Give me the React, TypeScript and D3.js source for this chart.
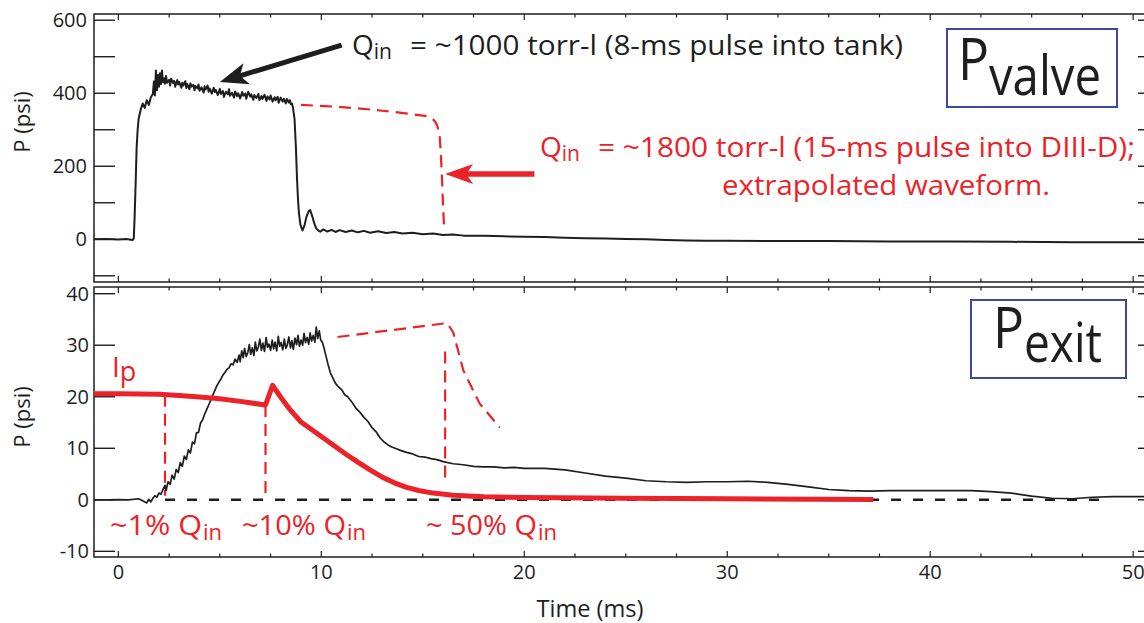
import React from "react";
import * as d3 from "d3";

// ---------- DATA ----------
// Top panel: valve pressure (psi) vs time (ms)
const valveTrace: [number, number][] = [
  [-1.2, 0], [-0.6, 0.5], [0, -0.5], [0.4, 1], [0.7, -2], [0.76, 2], [0.8, 60], [0.85, 150], [0.9, 250],
  [0.95, 300], [1.0, 330], [1.1, 355], [1.2, 372], [1.3, 360], [1.4, 381], [1.5, 368], [1.6, 389],
  [1.7, 398], [1.75, 432], [1.8, 394], [1.85, 462], [1.9, 408], [1.95, 450], [2.0, 418], [2.05, 455],
  [2.1, 425], [2.15, 462], [2.2, 430], [2.25, 441], [2.3, 426], [2.35, 447], [2.4, 429], [2.5, 437],
  [2.55, 421], [2.6, 440], [2.7, 428], [2.75, 434], [2.8, 418], [2.9, 436], [2.95, 424], [3.0, 431],
  [3.1, 415], [3.15, 429], [3.2, 421], [3.3, 433], [3.35, 414], [3.4, 425], [3.5, 411], [3.55, 427],
  [3.6, 418], [3.7, 423], [3.75, 408], [3.8, 420], [3.9, 413], [3.95, 424], [4.0, 407], [4.1, 416],
  [4.2, 402], [4.25, 419], [4.3, 410], [4.4, 421], [4.45, 404], [4.5, 413], [4.6, 399], [4.7, 415],
  [4.75, 403], [4.8, 409], [4.9, 395], [5.0, 412], [5.05, 398], [5.15, 406], [5.2, 390], [5.3, 404],
  [5.4, 397], [5.45, 411], [5.5, 393], [5.6, 401], [5.7, 388], [5.75, 405], [5.85, 392], [5.9, 400],
  [6.0, 386], [6.1, 403], [6.15, 393], [6.25, 399], [6.3, 385], [6.4, 404], [6.5, 391], [6.55, 397],
  [6.65, 382], [6.7, 395], [6.8, 387], [6.9, 398], [6.95, 381], [7.05, 392], [7.1, 384], [7.2, 396],
  [7.3, 379], [7.35, 391], [7.45, 383], [7.5, 394], [7.6, 377], [7.7, 389], [7.75, 381], [7.85, 390],
  [7.9, 374], [8.0, 388], [8.1, 377], [8.15, 385], [8.25, 372], [8.3, 384], [8.4, 375], [8.45, 381],
  [8.5, 370], [8.55, 372], [8.6, 362], [8.68, 330], [8.75, 250], [8.8, 170], [8.85, 110], [8.9, 70],
  [8.97, 40], [9.07, 24], [9.17, 38], [9.27, 62], [9.37, 76], [9.45, 80], [9.55, 64], [9.65, 44],
  [9.75, 30], [9.85, 24], [9.95, 21], [10.1, 27], [10.3, 21], [10.5, 26], [10.7, 20], [10.9, 25],
  [11.2, 20], [11.5, 24], [11.8, 19], [12.1, 23], [12.4, 18], [12.8, 22], [13.2, 17], [13.6, 20],
  [14.0, 16], [14.5, 18], [15.0, 14], [15.5, 16], [16.0, 12], [16.5, 13], [17, 10], [18, 10], [19, 8],
  [20, 7], [21, 6], [22, 4], [23, 3], [24, 2], [25, 1], [26, 0], [27, -2], [28, -3], [29, -4],
  [30, -4], [32, -5], [35, -5], [38, -6], [41, -6], [44, -7], [47, -8], [50.9, -8],
];

// Top panel: extrapolated 15-ms waveform (red dashed)
const valveExtrapolated: [number, number][] = [
  [9.0, 368], [11, 362], [13, 352], [14.8, 340], [15.4, 333], [15.65, 318], [15.8, 292],
  [15.88, 240], [15.95, 160], [16.0, 90], [16.05, 34],
];

// Bottom panel: exit pressure (psi)
const exitTrace: [number, number][] = [
  [-1.2, 0], [-0.5, 0], [0, 0.05], [0.5, 0], [1.0, 0.2], [1.2, -0.2], [1.4, -0.6], [1.5, 0.1],
  [1.6, -0.4], [1.7, 0.3], [1.8, 0.8], [1.9, 0.5], [2.0, 1.3], [2.1, 1.1], [2.2, 2.0], [2.3, 2.8],
  [2.35, 1.8], [2.45, 3.5], [2.55, 3.0], [2.65, 4.8], [2.75, 4.0], [2.85, 5.9], [2.95, 5.3],
  [3.05, 7.2], [3.15, 6.5], [3.25, 8.5], [3.35, 7.8], [3.45, 9.7], [3.55, 9.1], [3.65, 11.2],
  [3.75, 10.9], [3.85, 13.0], [3.95, 13.1], [4.05, 14.9], [4.15, 15.5], [4.25, 16.6], [4.35, 17.5],
  [4.45, 18.4], [4.55, 19.3], [4.65, 20.3], [4.75, 21.2], [4.85, 22.1], [4.95, 22.8], [5.05, 23.4],
  [5.15, 24.2], [5.25, 24.7], [5.35, 25.3], [5.45, 25.6], [5.55, 26.4], [5.65, 26.2], [5.75, 27.3],
  [5.85, 26.7], [5.95, 28.1], [6.0, 26.8], [6.08, 28.9], [6.15, 27.6], [6.22, 29.4], [6.3, 27.8],
  [6.38, 28.6], [6.45, 30.1], [6.52, 28.2], [6.6, 29.5], [6.68, 28.0], [6.75, 30.6], [6.82, 28.9],
  [6.9, 29.7], [6.97, 31.2], [7.05, 29.0], [7.12, 30.4], [7.2, 28.8], [7.28, 31.5], [7.35, 29.6],
  [7.42, 30.2], [7.5, 29.0], [7.58, 31.0], [7.65, 29.3], [7.72, 30.6], [7.8, 28.9], [7.88, 31.7],
  [7.95, 29.8], [8.02, 30.5], [8.1, 29.1], [8.18, 31.2], [8.25, 29.4], [8.32, 30.0], [8.4, 31.6],
  [8.48, 29.5], [8.55, 30.9], [8.62, 29.2], [8.7, 31.4], [8.78, 30.1], [8.85, 31.9], [8.92, 29.8],
  [9.0, 31.0], [9.08, 30.0], [9.15, 32.3], [9.22, 30.5], [9.3, 31.5], [9.38, 30.2], [9.45, 32.4],
  [9.52, 30.8], [9.6, 31.9], [9.68, 30.6], [9.75, 33.5], [9.82, 31.3], [9.9, 32.8], [9.97, 31.0],
  [10.05, 30.6], [10.15, 29.2], [10.25, 27.6], [10.35, 26.0], [10.45, 24.6], [10.55, 23.8],
  [10.7, 22.6], [10.85, 21.9], [11.0, 21.4], [11.15, 20.4], [11.3, 20.0], [11.5, 19.0], [11.7, 17.8],
  [11.9, 17.0], [12.1, 16.0], [12.3, 15.2], [12.5, 14.0], [12.7, 13.2], [12.9, 12.0], [13.1, 11.2],
  [13.3, 10.6], [13.5, 10.2], [13.7, 9.9], [13.9, 9.6], [14.2, 9.2], [14.5, 8.9], [14.8, 8.4],
  [15.1, 8.3], [15.4, 8.0], [15.7, 7.8], [16.0, 7.4], [16.5, 7.0], [17.0, 6.8], [17.5, 6.5],
  [18.0, 6.4], [18.5, 6.4], [19.0, 6.2], [19.5, 6.3], [20.0, 6.1], [21.0, 6.1], [22.0, 5.8],
  [23.0, 5.2], [24.0, 4.6], [25.0, 4.2], [26.0, 3.7], [27.0, 3.5], [28.0, 3.4], [29.0, 3.5],
  [30.0, 3.5], [31.0, 3.6], [32.0, 3.4], [33.0, 3.0], [34.0, 2.5], [35.0, 2.0], [36.0, 1.8],
  [37.0, 1.7], [38.0, 1.8], [39.0, 1.8], [40.0, 1.8], [41.0, 1.8], [42.0, 1.8], [43.0, 1.6],
  [44.0, 1.3], [45.0, 0.7], [46.0, 0.3], [47.0, 0.2], [48.0, 0.5], [49.0, 0.6], [50.9, 0.6],
];

// Bottom panel: plasma current Ip (scaled), thick red
const ipTrace: [number, number][] = [
  [-1.2, 20.6], [0, 20.6], [2.0, 20.5], [3, 20.25], [4, 19.95], [5, 19.6], [6, 19.1], [7.25, 18.4],
  [7.6, 22.2], [8.0, 19.9], [8.5, 17.3], [9.0, 15.1], [9.5, 13.7], [10.0, 12.3], [10.6, 10.6],
  [11.2, 8.9], [11.8, 7.3], [12.4, 5.8], [13.0, 4.4], [13.6, 3.3], [14.2, 2.4], [14.8, 1.8],
  [15.5, 1.3], [16.5, 0.9], [18, 0.6], [20, 0.45], [25, 0.3], [30, 0.2], [37.2, 0.05],
];

// Bottom panel: extrapolated exit waveform (red dashed)
const exitExtrapolated: [number, number][] = [
  [10.8, 31.6], [16.2, 34.3], [16.5, 32.5], [17.0, 25.1], [17.8, 18.7], [18.8, 14.0],
];

// Bottom panel: red dashed markers (time, top value, bottom value)
const qinMarkers: [number, number, number][] = [
  [2.3, 20.4, 0.8],
  [7.25, 18.4, 0],
  [16.1, 28.8, 3.1],
];
const zeroLine: [number, number] = [2.3, 48.5];

// Axes
const xLabelTicks = [0, 10, 20, 30, 40, 50];
const valveTicks = [-100, 0, 100, 200, 300, 400, 500, 600];
const valveLabelTicks = [0, 200, 400, 600];
const exitTicks = [-10, 0, 10, 20, 30, 40];

// ---------- LAYOUT ----------
const W = 1144;
const H = 623;
const LEFT = 94;
const RIGHT = 1150;
const TOP1 = 14, BOT1 = 282;
const TOP2 = 287, BOT2 = 557;
const RED = "#ec2229";
const BLUE = "#3c48a4";
const INK = "#1e1e1e";
const FONT = "'Open Sans', 'DejaVu Sans', sans-serif";

const x = d3.scaleLinear().domain([-1.2, 50.83]).range([LEFT, RIGHT]);
const yTop = d3.scaleLinear().domain([-117, 617]).range([BOT1, TOP1]);
const yBot = d3.scaleLinear().domain([-11.1, 41.3]).range([BOT2, TOP2]);

const lineTop = d3.line<[number, number]>().x(d => x(d[0])).y(d => yTop(d[1]));
const lineBot = d3.line<[number, number]>().x(d => x(d[0])).y(d => yBot(d[1]));
const smoothTop = d3.line<[number, number]>().x(d => x(d[0])).y(d => yTop(d[1])).curve(d3.curveCatmullRom.alpha(0.5));

const minorX = d3.range(0, 50.01, 2.5);

function Arrow({ x1, y1, x2, y2, color, width, headLen, headHalf }:
  { x1: number; y1: number; x2: number; y2: number; color: string; width: number; headLen: number; headHalf: number }) {
  const dx = x2 - x1, dy = y2 - y1;
  const L = Math.hypot(dx, dy);
  const ux = dx / L, uy = dy / L;
  const bx = x2 - ux * headLen, by = y2 - uy * headLen;
  const px = -uy, py = ux;
  const pts = [
    [x2, y2],
    [bx + px * headHalf, by + py * headHalf],
    [x2 - ux * headLen * 0.75, y2 - uy * headLen * 0.75],
    [bx - px * headHalf, by - py * headHalf],
  ].map(p => p.join(",")).join(" ");
  return (
    <g>
      <line x1={x1} y1={y1} x2={x2 - ux * headLen * 0.6} y2={y2 - uy * headLen * 0.6} stroke={color} strokeWidth={width} />
      <polygon points={pts} fill={color} />
    </g>
  );
}

function Frame({ top, bottom, yScale, ticks }: { top: number; bottom: number; yScale: d3.ScaleLinear<number, number>; ticks: number[] }) {
  return (
    <g stroke={INK} fill="none">
      <rect x={LEFT} y={top} width={RIGHT - LEFT} height={bottom - top} strokeWidth={1.5} />
      {ticks.map(v => (
        <g key={"y" + v}>
          <line x1={LEFT} x2={LEFT + 21} y1={yScale(v)} y2={yScale(v)} strokeWidth={1.4} />
          <line x1={RIGHT} x2={RIGHT - 12} y1={yScale(v)} y2={yScale(v)} strokeWidth={1.4} />
        </g>
      ))}
      {minorX.map(t => {
        const len = t % 10 === 0 ? 6 : 3.5;
        return (
          <g key={"x" + t}>
            <line x1={x(t)} x2={x(t)} y1={top} y2={top + len} strokeWidth={1.2} />
            <line x1={x(t)} x2={x(t)} y1={bottom} y2={bottom - len} strokeWidth={1.2} />
          </g>
        );
      })}
    </g>
  );
}

function QLabel({ x0, y0, main, width }: { x0: number; y0: number; main: string; width: number }) {
  return (
    <text x={x0} y={y0} fontSize={28} fill={RED}>
      <tspan textLength={width} lengthAdjust="spacingAndGlyphs">{main}</tspan>
      <tspan fontSize={22} dy={5} dx={1}>in</tspan>
    </text>
  );
}

export default function App() {
  return (
    <svg width={W} height={H} viewBox={`0 0 ${W} ${H}`}
      style={{ position: "absolute", left: 0, top: 0, background: "#fff" }}
      fontFamily={FONT}>
      <defs>
        <clipPath id="clipTop"><rect x={LEFT} y={TOP1} width={RIGHT - LEFT} height={BOT1 - TOP1} /></clipPath>
        <clipPath id="clipBot"><rect x={LEFT} y={TOP2} width={RIGHT - LEFT} height={BOT2 - TOP2} /></clipPath>
      </defs>
      <rect x={0} y={0} width={W} height={H} fill="#fff" />

      {/* ---------- TOP PANEL ---------- */}
      <Frame top={TOP1} bottom={BOT1} yScale={yTop} ticks={valveTicks} />
      <g clipPath="url(#clipTop)">
        <path d={smoothTop(valveExtrapolated) || ""} fill="none" stroke={RED} strokeWidth={2.2} strokeDasharray="12 7" />
        <path d={lineTop(valveTrace) || ""} fill="none" stroke={INK} strokeWidth={2} strokeLinejoin="round" />
      </g>
      {valveLabelTicks.map(v => (
        <text key={v} x={87} y={yTop(v)} dy="0.35em" textAnchor="end" fontSize={20} fill={INK}>{v}</text>
      ))}
      <text transform={`translate(30,${122}) rotate(-90)`} textAnchor="middle" fontSize={22} fill={INK}>P (psi)</text>

      {/* black annotation */}
      <Arrow x1={x(11.0)} y1={yTop(532)} x2={x(5.0)} y2={yTop(431)} color={INK} width={5} headLen={28} headHalf={11} />
      <text x={352} y={55} fontSize={28} fill={INK}>Q<tspan fontSize={21} dy={4}>in</tspan></text>
      <text x={410} y={55} fontSize={28} fill={INK} textLength={493} lengthAdjust="spacingAndGlyphs">= ~1000 torr-l (8-ms pulse into tank)</text>

      {/* red annotation */}
      <Arrow x1={x(20.5)} y1={yTop(179)} x2={x(16.1)} y2={yTop(179)} color={RED} width={5.5} headLen={28} headHalf={10} />
      <text x={540} y={157} fontSize={28} fill={RED}>Q<tspan fontSize={21} dy={4}>in</tspan></text>
      <text x={598} y={157} fontSize={28} fill={RED} textLength={537} lengthAdjust="spacingAndGlyphs">= ~1800 torr-l (15-ms pulse into DIII-D);</text>
      <text x={722} y={195} fontSize={28} fill={RED} textLength={328} lengthAdjust="spacingAndGlyphs">extrapolated waveform.</text>

      {/* P_valve box */}
      <rect x={947} y={29} width={170} height={78} fill="#fff" stroke={BLUE} strokeWidth={2} />
      <text x={958} y={80} fontSize={58} fill={INK}>
        <tspan textLength={31} lengthAdjust="spacingAndGlyphs">P</tspan>
        <tspan dy={15} fontSize={54} textLength={112} lengthAdjust="spacingAndGlyphs">valve</tspan>
      </text>

      {/* ---------- BOTTOM PANEL ---------- */}
      <Frame top={TOP2} bottom={BOT2} yScale={yBot} ticks={exitTicks} />
      <g clipPath="url(#clipBot)">
        <line x1={x(zeroLine[0])} x2={x(zeroLine[1])} y1={yBot(0)} y2={yBot(0)} stroke={INK} strokeWidth={2.4} strokeDasharray="10 12" />
        {qinMarkers.map(([t, a, b]) => (
          <line key={t} x1={x(t)} x2={x(t)} y1={yBot(a)} y2={yBot(b)} stroke={RED} strokeWidth={2.2} strokeDasharray="12 7" />
        ))}
        <path d={lineBot(exitExtrapolated) || ""} fill="none" stroke={RED} strokeWidth={2.2} strokeDasharray="12 7" />
        <path d={lineBot(exitTrace) || ""} fill="none" stroke={INK} strokeWidth={1.7} strokeLinejoin="round" />
        <path d={lineBot(ipTrace) || ""} fill="none" stroke={RED} strokeWidth={5} strokeLinejoin="round" />
      </g>
      {exitTicks.map(v => (
        <text key={v} x={89} y={yBot(v)} dy="0.35em" textAnchor="end" fontSize={20} fill={INK}>{v}</text>
      ))}
      <text transform={`translate(30,${417}) rotate(-90)`} textAnchor="middle" fontSize={22} fill={INK}>P (psi)</text>

      {/* P_exit box */}
      <rect x={971} y={300} width={155} height={78} fill="#fff" stroke={BLUE} strokeWidth={2} />
      <text x={993} y={348} fontSize={56} fill={INK}>
        <tspan textLength={31} lengthAdjust="spacingAndGlyphs">P</tspan>
        <tspan dy={14} fontSize={54} textLength={78} lengthAdjust="spacingAndGlyphs">exit</tspan>
      </text>

      {/* red labels */}
      <text x={112} y={377} fontSize={28} fill={RED}>I<tspan fontSize={27} dy={4}>p</tspan></text>
      <QLabel x0={110} y0={535} main="~1% Q" width={92} />
      <QLabel x0={242} y0={535} main="~10% Q" width={104} />
      <QLabel x0={426} y0={535} main="~ 50% Q" width={111} />

      {/* x axis labels */}
      {xLabelTicks.map(t => (
        <text key={t} x={x(t)} y={579} textAnchor="middle" fontSize={20} fill={INK}>{t}</text>
      ))}
      <text x={590} y={617} textAnchor="middle" fontSize={23} fill={INK} textLength={107} lengthAdjust="spacingAndGlyphs">Time (ms)</text>
    </svg>
  );
}
